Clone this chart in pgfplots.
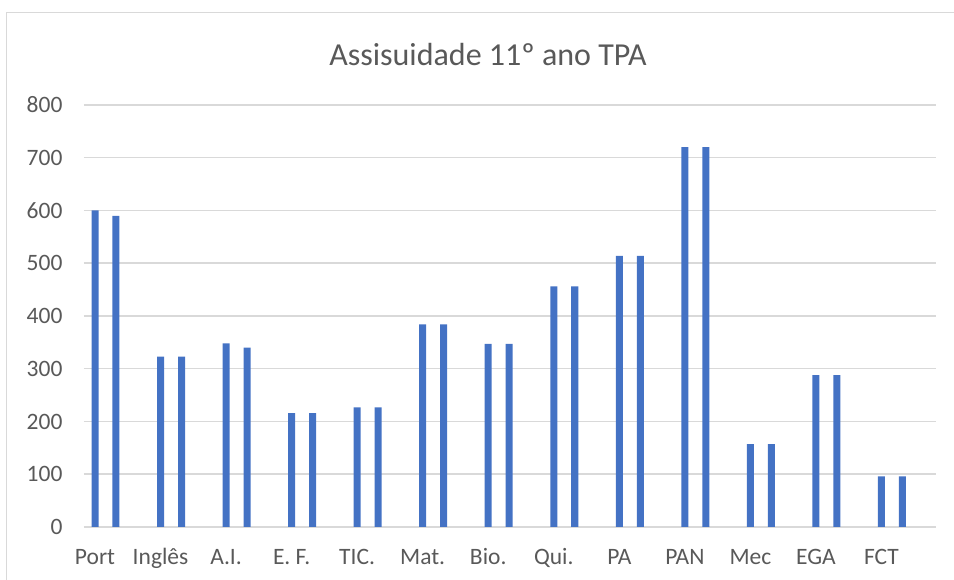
\documentclass[border=0pt]{standalone}
\usepackage{fontspec}
\setmainfont{Carlito}
\usepackage{pgfplots}
\pgfplotsset{compat=1.18}
\definecolor{barblue}{HTML}{4472C4}
\definecolor{txtgray}{HTML}{595959}
\definecolor{gridgray}{HTML}{D9D9D9}

\begin{document}
\begin{tikzpicture}[x=1pt,y=1pt]
\useasboundingbox (0,0) rectangle (954,580);
% chart area border
\draw[gridgray, line width=1.5pt] (6.5,0) -- (6.5,567.5) -- (954,567.5);
\node[anchor=base, text=txtgray, font=\fontsize{32}{38}\selectfont] at (488,514) {Assisuidade 11º ano TPA};
\begin{axis}[
at={(84pt,53pt)}, anchor=south west,
scale only axis,
width=852pt, height=422pt,
xmin=-0.168, xmax=12.832,
ymin=0, ymax=800,
ytick={0,100,...,800},
xtick={0,...,12},
xticklabels={Port,Inglês,A.I.,E. F.,TIC.,Mat.,Bio.,Qui.,PA,PAN,Mec,EGA,FCT},
major tick length=0pt,
axis line style={draw=none},
ymajorgrids,
grid style={draw=gridgray, line width=1.5pt},
ticklabel style={text=txtgray, font=\fontsize{23.5}{28}\selectfont},
/pgf/number format/assume math mode=true,
yticklabel style={anchor=east, xshift=-18pt},
xticklabel style={anchor=base, yshift=-38pt},
]
\addplot[ybar, bar width=0.107, bar shift=0, fill=barblue, draw=none] coordinates {
(0,600) (1,323) (2,348) (3,216) (4,227) (5,384) (6,347) (7,456) (8,514) (9,720) (10,157) (11,288) (12,96)};
\addplot[ybar, bar width=0.107, bar shift=0.32, fill=barblue, draw=none] coordinates {
(0,590) (1,323) (2,340) (3,216) (4,227) (5,384) (6,347) (7,456) (8,514) (9,720) (10,157) (11,288) (12,96)};
\end{axis}
\end{tikzpicture}
\end{document}
